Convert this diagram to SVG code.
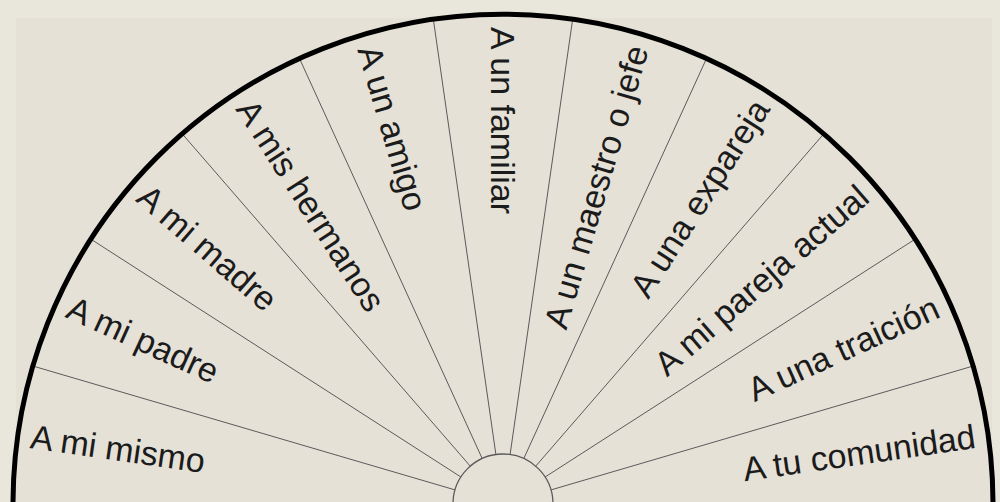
<svg xmlns="http://www.w3.org/2000/svg" width="1000" height="502" viewBox="0 0 1000 502">
<style>
.lbl{font-family:"Liberation Sans",Arial,sans-serif;font-size:34px;fill:#1b1b1b}
.sp{stroke:#5a5a5a;stroke-width:1;fill:none}
</style>
<rect x="0" y="0" width="1000" height="502" fill="#e9e6dc"/>
<rect x="16" y="18" width="976" height="490" fill="#e5e1d7"/>
<g id="connectors">
<line class="sp" x1="455.0" y1="489.9" x2="32.8" y2="366.0"/>
<line class="sp" x1="460.9" y1="477.0" x2="90.8" y2="239.1"/>
<line class="sp" x1="470.3" y1="466.2" x2="182.1" y2="133.7"/>
<line class="sp" x1="482.2" y1="458.5" x2="299.4" y2="58.3"/>
<line class="sp" x1="495.9" y1="454.5" x2="433.3" y2="19.0"/>
<line class="sp" x1="510.1" y1="454.5" x2="572.7" y2="19.0"/>
<line class="sp" x1="523.8" y1="458.5" x2="706.6" y2="58.3"/>
<line class="sp" x1="535.7" y1="466.2" x2="823.9" y2="133.7"/>
<line class="sp" x1="545.1" y1="477.0" x2="915.2" y2="239.1"/>
<line class="sp" x1="551.0" y1="489.9" x2="973.2" y2="366.0"/>
</g>
<g id="outer-arc"><path d="M13,504 A490,490 0 0 1 993,504" fill="none" stroke="#000" stroke-width="5"/></g>
<g id="center"><circle cx="503" cy="504" r="50" fill="#e5e1d7" stroke="#5a5a5a" stroke-width="1.3"/></g>
<g id="n0"><text class="lbl" dy="0.35em" transform="translate(30.9,436.1) rotate(8.182)">A mi mismo</text></g>
<g id="n1"><text class="lbl" dy="0.35em" transform="translate(69.1,305.8) rotate(24.545)">A mi padre</text></g>
<g id="n2"><text class="lbl" dy="0.35em" transform="translate(142.5,191.6) rotate(40.909)">A mi madre</text></g>
<g id="n3"><text class="lbl" dy="0.35em" transform="translate(245.1,102.7) rotate(57.273)">A mis hermanos</text></g>
<g id="n4"><text class="lbl" dy="0.35em" transform="translate(368.6,46.3) rotate(73.636)">A un amigo</text></g>
<g id="n5"><text class="lbl" dy="0.35em" transform="translate(503,27) rotate(90)">A un familiar</text></g>
<g id="n6"><text class="lbl" dy="0.35em" text-anchor="end" transform="translate(637.4,46.3) rotate(-73.636)">A un maestro o jefe</text></g>
<g id="n7"><text class="lbl" dy="0.35em" text-anchor="end" transform="translate(760.9,102.7) rotate(-57.273)">A una expareja</text></g>
<g id="n8"><text class="lbl" dy="0.35em" text-anchor="end" transform="translate(863.5,191.6) rotate(-40.909)">A mi pareja actual</text></g>
<g id="n9"><text class="lbl" dy="0.35em" text-anchor="end" transform="translate(936.9,305.8) rotate(-24.545)">A una traición</text></g>
<g id="n10"><text class="lbl" dy="0.35em" text-anchor="end" transform="translate(975.1,436.1) rotate(-8.182)">A tu comunidad</text></g>
</svg>
